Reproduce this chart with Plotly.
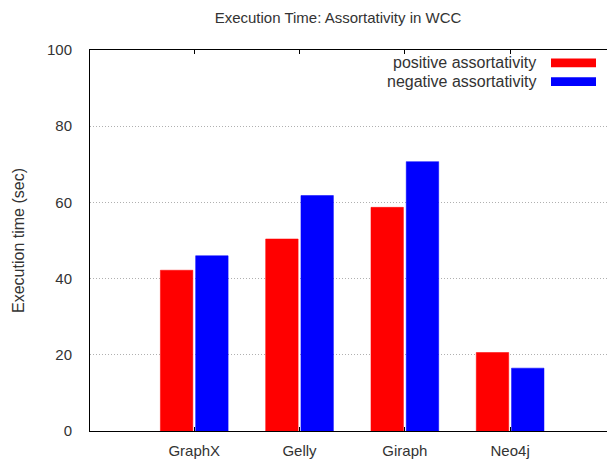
import plotly.graph_objects as go

categories = ["GraphX", "Gelly", "Giraph", "Neo4j"]
positive = [42.2, 50.4, 58.7, 20.6]
negative = [46.0, 61.8, 70.7, 16.5]
series_names = ["positive assortativity", "negative assortativity"]
colors = ["#ff0000", "#0000ff"]
y_ticks = [0, 20, 40, 60, 80, 100]

FONT = "Liberation Sans, Arial, sans-serif"
TXT = "#333333"

W = 607
PW = W - 90

fig = go.Figure()
for name, vals, col in zip(series_names, [positive, negative], colors):
    fig.add_trace(go.Bar(
        x=list(range(len(categories))), y=vals, name=name,
        marker=dict(color=col, line=dict(color=col, width=0.5)),
        showlegend=False,
    ))

fig.update_layout(
    width=W, height=459,
    margin=dict(l=90, r=0, t=50, b=24),
    paper_bgcolor="white", plot_bgcolor="white",
    barmode="group", bargap=0.33, bargroupgap=0.08,
    font=dict(family=FONT, color=TXT, size=15),
    title=dict(text="Execution Time: Assortativity in WCC", x=338 / W, xanchor="center",
               y=0.962, yanchor="middle", font=dict(size=15, color=TXT)),
    xaxis=dict(
        range=[-0.99, 3.92], tickmode="array",
        tickvals=list(range(len(categories))), ticktext=categories,
        showgrid=False, zeroline=False,
        showline=True, linecolor="black", linewidth=1, mirror="ticks",
        ticks="inside", ticklen=4, tickcolor="black",
        tickfont=dict(size=15, color=TXT), ticklabelstandoff=6,
    ),
    yaxis=dict(
        range=[0, 100], tickmode="array", tickvals=y_ticks,
        showgrid=True, gridcolor="#b0b0b0", griddash="1px,2px", gridwidth=1,
        zeroline=False, showline=True, linecolor="black", linewidth=1, mirror=False,
        ticks="", tickfont=dict(size=15, color=TXT), ticklabelstandoff=14,
        title=dict(text="Execution time (sec)", font=dict(size=16, color=TXT), standoff=18),
    ),
)

# legend (gnuplot style: text right, swatch on right)
leg_y = [63, 82]
for i, (name, col) in enumerate(zip(series_names, colors)):
    ypx = leg_y[i]
    yp = 1 - (ypx - 50) / 385.0
    fig.add_annotation(text=name, xref="paper", yref="paper",
                       x=(538 - 90) / PW, y=yp, xanchor="right", yanchor="middle",
                       showarrow=False, font=dict(size=16, color=TXT))
    fig.add_shape(type="rect", xref="paper", yref="paper",
                  x0=(551 - 90) / PW, x1=(596 - 90) / PW,
                  y0=yp - 4.5 / 385.0, y1=yp + 4.5 / 385.0,
                  fillcolor=col, line=dict(width=0))

post = (
    "var h=document.documentElement,b=document.body;"
    "[h,b].forEach(function(e){e.style.margin='0';e.style.padding='0';"
    "e.style.overflow='hidden';e.style.height='459px';e.style.width='607px';});"
)
fig.write_html("out.html", config={"displayModeBar": False}, post_script=post)
